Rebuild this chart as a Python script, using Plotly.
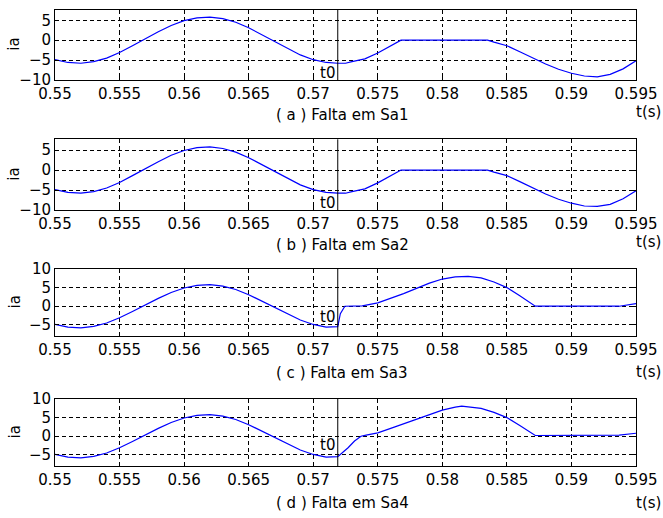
import plotly.graph_objects as go

# Phase current ia before the fault (same in all four cases)
t_pre = [0.550, 0.551, 0.552, 0.553, 0.554, 0.555, 0.556, 0.557, 0.558, 0.559,
         0.560, 0.561, 0.562, 0.563, 0.564, 0.565, 0.566, 0.567, 0.568, 0.569,
         0.570, 0.571, 0.5719]
ia_pre = [-4.9, -5.6, -5.8, -5.4, -4.5, -3.1, -1.4, 0.4, 2.1, 3.7,
          4.9, 5.6, 5.8, 5.4, 4.5, 3.1, 1.4, -0.4, -2.1, -3.7,
          -4.9, -5.6, -5.8]

# Fault instant
t0 = 0.5719

# (a) fault in Sa1
t_a = [0.5719, 0.5725, 0.573, 0.574, 0.575, 0.576, 0.5768, 0.578, 0.580, 0.582,
       0.5835, 0.584, 0.585, 0.586, 0.587, 0.588, 0.589, 0.590, 0.591, 0.592,
       0.593, 0.594, 0.595]
ia_a = [-5.8, -5.8, -5.4, -4.7, -3.2, -1.4, 0.0, 0.0, 0.0, 0.0,
        0.0, -0.5, -1.4, -2.9, -4.5, -6.0, -7.3, -8.3, -9.0, -9.2,
        -8.6, -7.2, -5.2]

# (b) fault in Sa2
t_b = [0.5719, 0.5725, 0.573, 0.574, 0.575, 0.576, 0.5768, 0.578, 0.580, 0.582,
       0.5835, 0.584, 0.585, 0.586, 0.587, 0.588, 0.589, 0.590, 0.591, 0.592,
       0.593, 0.594, 0.595]
ia_b = [-5.8, -5.8, -5.4, -4.7, -3.2, -1.4, 0.0, 0.0, 0.0, 0.0,
        0.0, -0.5, -1.4, -2.9, -4.5, -6.0, -7.3, -8.3, -9.0, -9.1,
        -8.6, -7.2, -5.2]

# (c) fault in Sa3
t_c = [0.5719, 0.5721, 0.57245, 0.5738, 0.575, 0.576, 0.577, 0.578, 0.579, 0.580,
       0.581, 0.582, 0.583, 0.584, 0.585, 0.586, 0.587, 0.5872, 0.5937, 0.595]
ia_c = [-5.5, -2.0, 0.0, 0.1, 0.9, 2.1, 3.4, 4.8, 6.2, 7.3,
        7.9, 8.0, 7.6, 6.5, 5.0, 2.8, 0.5, 0.0, 0.0, 0.7]

# (d) fault in Sa4
t_d = [0.5719, 0.5727, 0.5732, 0.5737, 0.5741, 0.575, 0.576, 0.577, 0.578, 0.579,
       0.580, 0.581, 0.5815, 0.582, 0.583, 0.584, 0.585, 0.586, 0.587, 0.5872,
       0.5937, 0.595]
ia_d = [-5.5, -3.1, -1.3, 0.0, 0.3, 0.9, 2.1, 3.3, 4.6, 5.9,
        7.0, 7.8, 8.1, 7.9, 7.5, 6.4, 5.0, 2.9, 0.6, 0.2,
        0.3, 0.8]

captions = ["( a ) Falta em Sa1", "( b ) Falta em Sa2",
            "( c ) Falta em Sa3", "( d ) Falta em Sa4"]
posts = [(t_a, ia_a), (t_b, ia_b), (t_c, ia_c), (t_d, ia_d)]
y_ranges = [[-10, 7.7], [-10, 7.7], [-8, 10], [-8, 10]]
y_ticks = [[-10, -5, 0, 5], [-10, -5, 0, 5], [-5, 0, 5, 10], [-5, 0, 5, 10]]
t0_label_y = [-8.2, -8.2, -2.8, -2.4]

x_ticks = [0.55, 0.555, 0.56, 0.565, 0.57, 0.575, 0.58, 0.585, 0.59, 0.595]
x_ticktext = ["0.55", "0.555", "0.56", "0.565", "0.57", "0.575",
              "0.58", "0.585", "0.59", "0.595"]

W, H = 663, 518
FONT = "DejaVu Sans"
FS = 15
# panel boxes in pixels: (top, bottom)
boxes = [(9.5, 80), (139.3, 210), (269, 336), (399, 466)]
left_px, right_px = 55, 636
caption_y = [115, 245, 373, 503]
ts_y = [112, 242, 372, 503]

fig = go.Figure()
layout = dict(
    width=W, height=H, autosize=False,
    margin=dict(l=0, r=0, t=0, b=0, pad=0, autoexpand=False),
    paper_bgcolor="white", plot_bgcolor="white",
    showlegend=False,
    font=dict(family=FONT, size=FS, color="black"),
    shapes=[], annotations=[],
)

for i in range(4):
    n = "" if i == 0 else str(i + 1)
    tp, ip = posts[i]
    fig.add_trace(go.Scatter(
        x=t_pre[:-1] + tp, y=ia_pre[:-1] + ip,
        mode="lines", line=dict(color="#0000ff", width=1.2),
        xaxis="x" + n, yaxis="y" + n,
    ))
    top, bot = boxes[i]
    common = dict(
        showline=True, linecolor="black", linewidth=1, mirror="ticks",
        ticks="inside", ticklen=4, tickcolor="black", automargin=False,
        showgrid=True, gridcolor="black", gridwidth=1, griddash="4px,3px",
        zeroline=False, tickfont=dict(family=FONT, size=FS, color="black"),
    )
    layout["xaxis" + n] = dict(
        common, domain=[left_px / W, right_px / W],
        range=[0.55, 0.595], tickvals=x_ticks, ticktext=x_ticktext,
        anchor="y" + n,
    )
    layout["yaxis" + n] = dict(
        common, domain=[1 - bot / H, 1 - top / H],
        range=y_ranges[i], tickvals=y_ticks[i],
        anchor="x" + n,
    )
    # fault instant marker
    layout["shapes"].append(dict(
        type="line", xref="x" + n, yref="y" + n + " domain",
        x0=t0, x1=t0, y0=0, y1=1, line=dict(color="black", width=1),
    ))
    layout["annotations"].append(dict(
        text="t0", xref="x" + n, yref="y" + n, x=t0, y=t0_label_y[i],
        xanchor="right", yanchor="middle", xshift=-1, showarrow=False,
        font=dict(family=FONT, size=FS, color="black"),
    ))
    layout["annotations"].append(dict(
        text=captions[i], xref="paper", yref="paper",
        x=342 / W, y=1 - caption_y[i] / H, xanchor="center", yanchor="middle",
        showarrow=False, font=dict(family=FONT, size=FS, color="black"),
    ))
    layout["annotations"].append(dict(
        text="t(s)", xref="paper", yref="paper",
        x=648 / W, y=1 - ts_y[i] / H, xanchor="center", yanchor="middle",
        showarrow=False, font=dict(family=FONT, size=FS, color="black"),
    ))
    layout["annotations"].append(dict(
        text="ia", xref="paper", yref="paper", textangle=-90,
        x=14 / W, y=1 - (top + bot) / 2 / H, xanchor="center", yanchor="middle",
        showarrow=False, font=dict(family=FONT, size=FS, color="black"),
    ))

fig.update_layout(**layout)
fig.write_html("out.html")
